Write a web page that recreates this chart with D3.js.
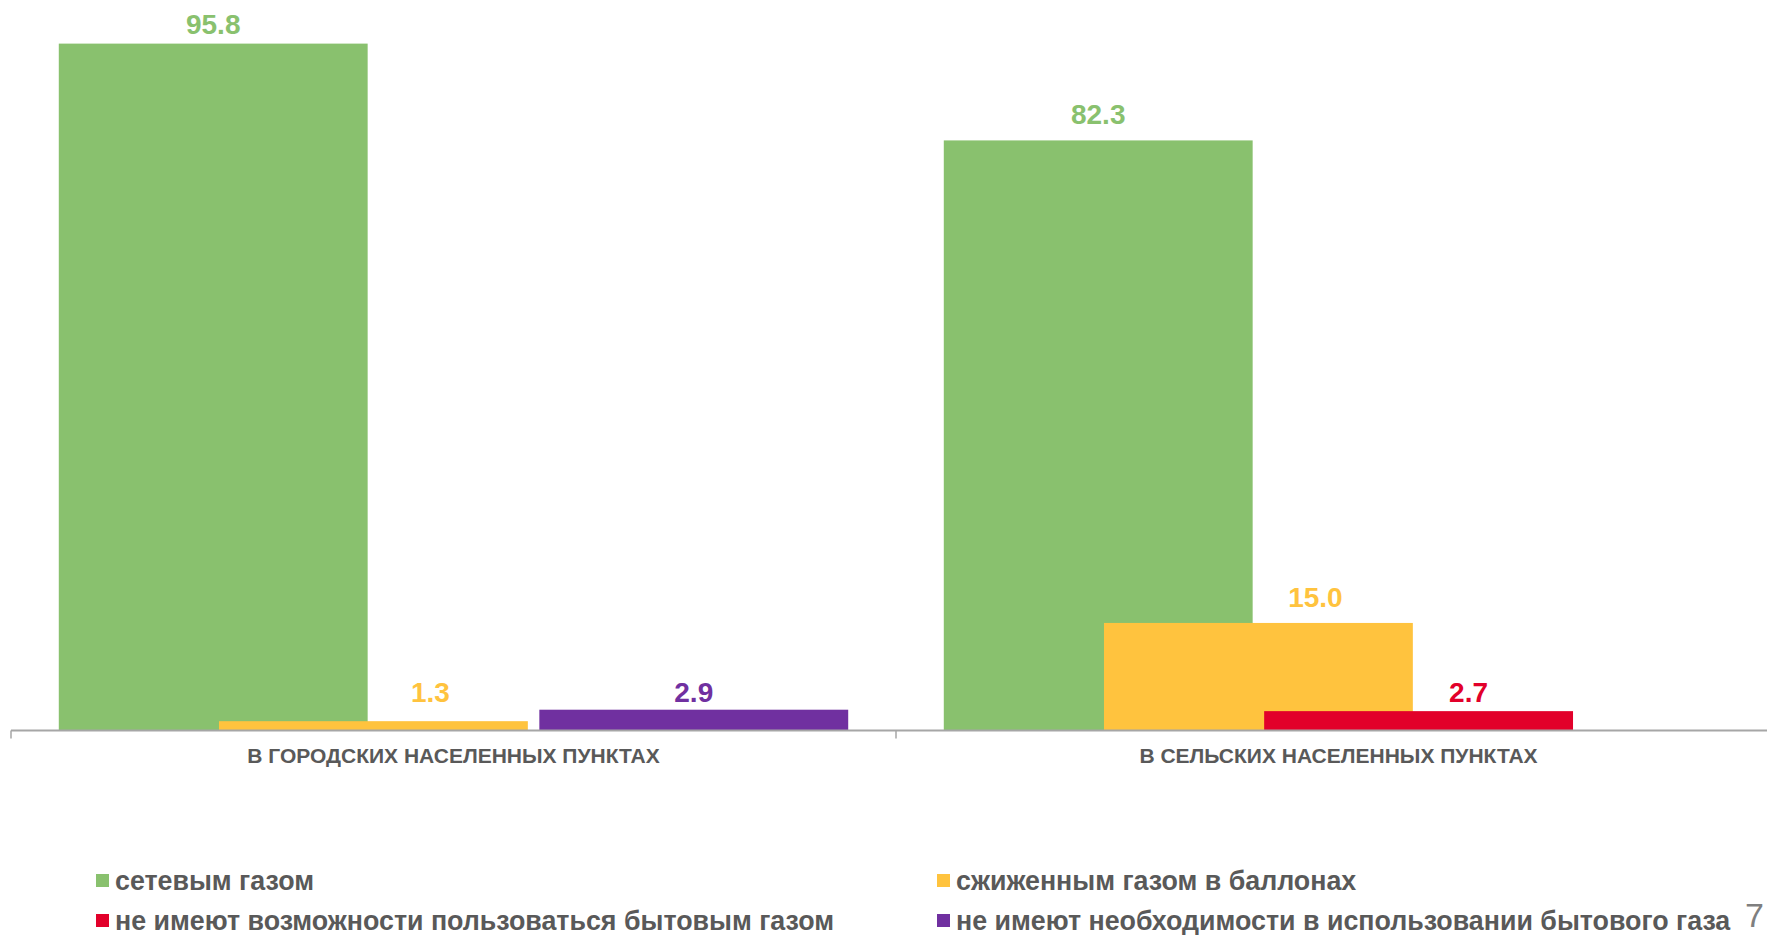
<!DOCTYPE html>
<html>
<head>
<meta charset="utf-8">
<script src="https://cdn.jsdelivr.net/npm/d3@7"></script>
<style>
  body { margin: 0; background: #fff; }
  svg { display: block; font-family: "Liberation Sans", Arial, sans-serif; font-weight: bold; }
</style>
</head>
<body>
<svg id="chart"></svg>
<script>
const width = 1767;
const height = 935;

// data
const categories = ["В ГОРОДСКИХ НАСЕЛЕННЫХ ПУНКТАХ", "В СЕЛЬСКИХ НАСЕЛЕННЫХ ПУНКТАХ"];
const seriesNames = [
  "сетевым газом",
  "сжиженным газом в баллонах",
  "не имеют возможности пользоваться бытовым газом",
  "не имеют необходимости в использовании бытового газа"
];
const networkGas = [95.8, 82.3];
const bottledGas = [1.3, 15.0];
const noAccess = [null, 2.7];
const noNeed = [2.9, null];
const seriesValues = [networkGas, bottledGas, noAccess, noNeed];

const colors = ["#89c16e", "#ffc33e", "#e2002a", "#7030a0"];
const labelShift = [0, 57, 50, 0]; // labels moved by hand in the original
const textGrey = "#595959";

const svg = d3.select("#chart")
  .attr("width", width)
  .attr("height", height);

svg.append("rect").attr("width", width).attr("height", height).attr("fill", "#fff");

const baseline = 730.5;

const x0 = d3.scaleBand()
  .domain(categories)
  .range([11, 1781]);

const bw = x0.bandwidth();
const barW = bw * 0.349;
const pad = bw * 0.054;

const x1 = d3.scalePoint()
  .domain(seriesNames)
  .range([pad, bw - pad - barW]);

const y = d3.scaleLinear()
  .domain([0, 100])
  .range([baseline, baseline - 717]);

// flatten into bars
let bars = [];
seriesNames.forEach((s, si) => {
  categories.forEach((c, ci) => {
    const v = seriesValues[si][ci];
    if (v != null) bars.push({series: s, si: si, category: c, value: v});
  });
});

svg.append("g")
  .selectAll("rect")
  .data(bars)
  .join("rect")
    .attr("x", d => x0(d.category) + x1(d.series))
    .attr("y", d => y(d.value))
    .attr("width", barW)
    .attr("height", d => baseline - y(d.value))
    .attr("fill", d => colors[d.si]);

// value labels
svg.append("g")
  .selectAll("text")
  .data(bars)
  .join("text")
    .attr("x", d => x0(d.category) + x1(d.series) + barW / 2 + labelShift[d.si])
    .attr("y", d => d.value < 5 ? baseline - 29 : Math.max(y(d.value) - 16, 34))
    .attr("text-anchor", "middle")
    .attr("font-size", 28)
    .attr("fill", d => colors[d.si])
    .text(d => d3.format(".1f")(d.value));

// category axis
const axis = svg.append("g");
axis.append("line")
  .attr("x1", x0.range()[0]).attr("x2", x0.range()[1])
  .attr("y1", baseline).attr("y2", baseline)
  .attr("stroke", "#a6a6a6")
  .attr("stroke-width", 2);

const tickXs = categories.map(c => x0(c)).concat([x0.range()[1]]);
axis.selectAll(".tick")
  .data(tickXs)
  .join("line")
    .attr("class", "tick")
    .attr("x1", d => d).attr("x2", d => d)
    .attr("y1", baseline).attr("y2", baseline + 8)
    .attr("stroke", "#a6a6a6")
    .attr("stroke-width", 1.5);

axis.selectAll(".cat")
  .data(categories)
  .join("text")
    .attr("class", "cat")
    .attr("x", d => x0(d) + bw / 2)
    .attr("y", 763)
    .attr("text-anchor", "middle")
    .attr("font-size", 21)
    .attr("fill", textGrey)
    .text(d => d);

// legend, two columns
const legendCols = [96, 937];
const legendRows = [890, 930];
const legend = svg.append("g")
  .selectAll("g")
  .data(seriesNames)
  .join("g")
    .attr("transform", (d, i) => `translate(${legendCols[i % 2]},${legendRows[Math.floor(i / 2)]})`);

legend.append("rect")
  .attr("x", 0)
  .attr("y", -16)
  .attr("width", 13)
  .attr("height", 13)
  .attr("fill", (d, i) => colors[i]);

legend.append("text")
  .attr("x", 19)
  .attr("y", 0)
  .attr("font-size", 26.8)
  .attr("fill", textGrey)
  .text(d => d);

// page number at the bottom-right corner
svg.append("text")
  .attr("x", 1745)
  .attr("y", 927)
  .attr("font-size", 34)
  .attr("font-weight", "normal")
  .attr("fill", "#7f7f7f")
  .text("7");
</script>
</body>
</html>
